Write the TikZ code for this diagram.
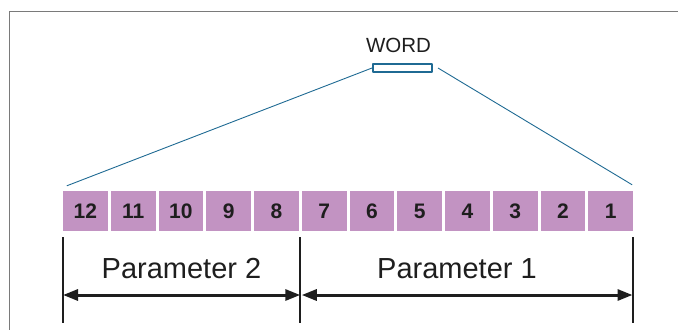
\documentclass[tikz,border=0pt]{standalone}
\usepackage{fontspec}
\setmainfont{Liberation Sans}
\usetikzlibrary{arrows.meta}
\definecolor{wordblue}{HTML}{1F6A93}
\definecolor{bitpink}{HTML}{C293C2}
\definecolor{framegray}{HTML}{7A7A7A}
\definecolor{inkblack}{HTML}{1E1E1E}
\tikzset{
  bitbox/.style={fill=bitpink, minimum width=44.75pt, minimum height=40pt, inner sep=0pt,
    text=inkblack, font=\bfseries\fontsize{21}{24}\selectfont},
  wordbox/.style={draw=wordblue, line width=2pt, minimum width=59pt, minimum height=8.5pt, inner sep=0pt},
  fan/.style={wordblue, line width=0.9pt},
  tick/.style={inkblack, line width=2pt},
  span/.style={inkblack, line width=3pt, <->},
  paramlbl/.style={text=inkblack, inner sep=0pt, font=\fontsize{29}{34}\selectfont}
}
\begin{document}
\begin{tikzpicture}[x=1pt,y=-1pt,>={Triangle[length=15pt,width=11pt]}, line join=round]
    \useasboundingbox (0,0) rectangle (678,330);
    \def\bx{63} \def\bw{47.75} \def\by{211}
    \draw[framegray, line width=1pt] (678,11) -- (9,11) -- (9,330);
    \foreach \i in {1,...,12}
      \node[bitbox] (b\i) at ({\bx+22.375+(12-\i)*\bw},\by) {\i};
    \node[wordbox] (word) at (402.5,68) {};
    \node[text=inkblack, inner sep=0pt, font=\fontsize{20.5}{24}\selectfont] (wordlbl) at (398.5,45) {WORD};
    \draw[fan] (word.west) -- ([shift={(4pt,5pt)}]b12.north west);
    \draw[fan] ([xshift=5pt]word.east) -- ([shift={(-1pt,6pt)}]b1.north east);
    \foreach \n/\x in {a/63,b/300.25,c/632.5}{
      \draw[tick] (\x,237) -- (\x,323);
      \coordinate (t\n) at (\x,295);
    }
    \draw[span] (ta) -- (tb);
    \draw[span] ([xshift=1.5pt]tb) -- (tc);
    \node[paramlbl] (par2) at (181.5,269) {Parameter 2};
    \node[paramlbl] (par1) at (457,269) {Parameter 1};
\end{tikzpicture}
\end{document}
